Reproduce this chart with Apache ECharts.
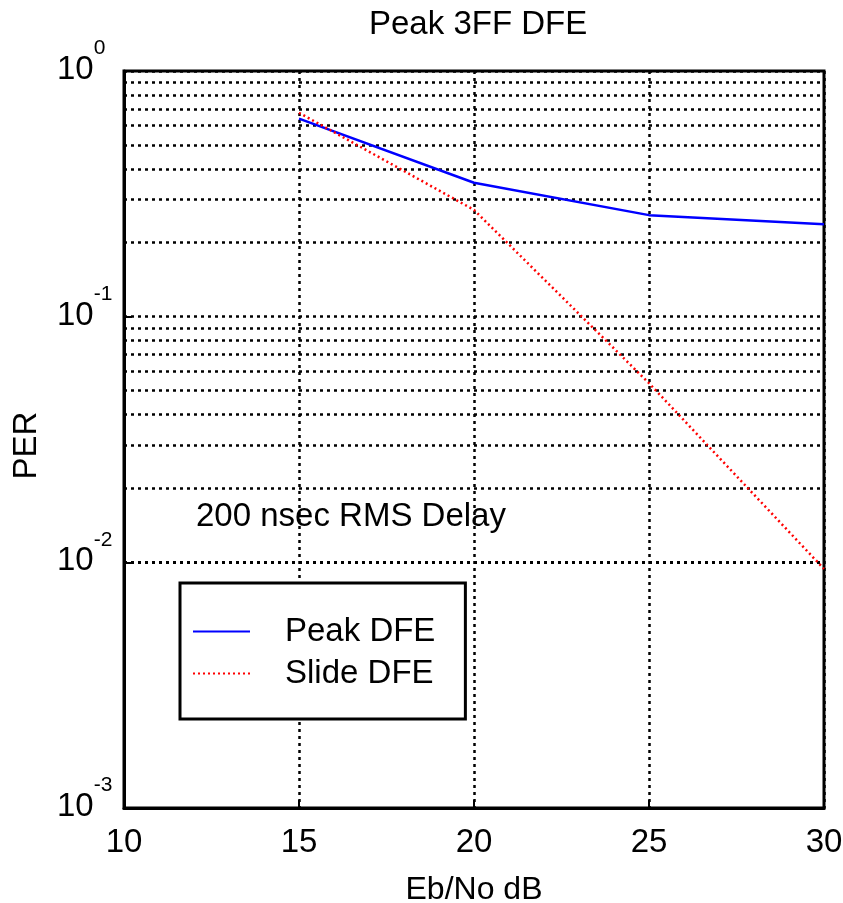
<!DOCTYPE html>
<html>
<head>
<meta charset="utf-8">
<script src="https://cdn.jsdelivr.net/npm/echarts@6/dist/echarts.min.js"></script>
<style>
  html, body { margin: 0; padding: 0; background: #fff; }
  #chart { width: 843px; height: 903px; }
</style>
</head>
<body>
<div id="chart"></div>
<script>
// Eb/No values (dB)
const ebNo = [15, 20, 25, 30];
// Packet error rate for each equaliser
const peakDFE = [0.64, 0.351, 0.259, 0.238];
const slideDFE = [0.676, 0.272, 0.0536, 0.0094];

// Axis ticks
const xTicks = [10, 15, 20, 25, 30];
const yDecades = [0.001, 0.01, 0.1, 1];
const yExponents = ['-3', '-2', '-1', '0'];

// Intermediate log-scale grid values (2..9 within each decade)
const yMinor = [
  0.002, 0.003, 0.004, 0.005, 0.006, 0.007, 0.008, 0.009,
  0.02, 0.03, 0.04, 0.05, 0.06, 0.07, 0.08, 0.09,
  0.2, 0.3, 0.4, 0.5, 0.6, 0.7, 0.8, 0.9
];

const FONT = '"Liberation Sans", Arial, sans-serif';
const FS = 33;
const dotted = { color: '#000', width: 2.5, type: [3, 4] };

const chart = echarts.init(document.getElementById('chart'), null, { renderer: 'canvas' });

chart.setOption({
  backgroundColor: '#fff',
  animation: false,
  textStyle: { fontFamily: FONT, color: '#000' },
  title: {
    text: 'Peak 3FF DFE',
    left: 364,
    top: 3,
    textStyle: { fontFamily: FONT, fontSize: FS, fontWeight: 'normal', color: '#000' }
  },
  grid: {
    left: 124, top: 71, width: 700, height: 737,
    containLabel: false,
    outerBoundsMode: 'none',
    show: true, borderColor: '#000', borderWidth: 3, backgroundColor: '#fff'
  },
  legend: {
    orient: 'vertical',
    left: 180,
    top: 583,
    padding: [32, 30, 29, 12],
    itemGap: 9,
    itemWidth: 57,
    itemHeight: 14,
    backgroundColor: '#fff',
    borderColor: '#000',
    borderWidth: 3,
    borderRadius: 0,
    itemStyle: { opacity: 0 },
    data: ['Peak DFE', 'Slide DFE'],
    textStyle: { fontFamily: FONT, fontSize: FS, color: '#000', padding: [0, 0, 0, 30] }
  },
  xAxis: {
    type: 'value',
    min: xTicks[0],
    max: xTicks[xTicks.length - 1],
    interval: xTicks[1] - xTicks[0],
    name: 'Eb/No dB',
    nameLocation: 'middle',
    nameGap: 66,
    nameTextStyle: { fontFamily: FONT, fontSize: 32, color: '#000' },
    axisLine: { show: true, lineStyle: { color: '#000', width: 3 } },
    axisTick: { show: true, inside: true, length: 8, lineStyle: { color: '#000', width: 2 } },
    axisLabel: { fontFamily: FONT, fontSize: FS, color: '#000', margin: 18 },
    splitLine: { show: true, lineStyle: dotted }
  },
  yAxis: {
    type: 'log',
    logBase: 10,
    min: yDecades[0],
    max: yDecades[yDecades.length - 1],
    name: 'PER',
    nameLocation: 'middle',
    nameGap: 81,
    nameTextStyle: { fontFamily: FONT, fontSize: FS, color: '#000', padding: [0, 12, 0, 0] },
    axisLine: { show: true, lineStyle: { color: '#000', width: 3 } },
    axisTick: { show: true, inside: true, length: 8, lineStyle: { color: '#000', width: 2 } },
    axisLabel: {
      margin: 67,
      align: 'left',
      padding: [0, 0, 2, 0],
      formatter: function (v) {
        let idx = 0, best = Infinity;
        yDecades.forEach(function (d, i) {
          const diff = Math.abs(Math.log10(d) - Math.log10(v));
          if (diff < best) { best = diff; idx = i; }
        });
        return '{b|10}{s|' + yExponents[idx] + '}';
      },
      rich: {
        b: { fontFamily: FONT, fontSize: FS, color: '#000', lineHeight: 64, verticalAlign: 'middle' },
        s: { fontFamily: FONT, fontSize: 21, color: '#000', verticalAlign: 'top' }
      }
    },
    splitLine: { show: true, lineStyle: dotted }
  },
  graphic: [
    {
      type: 'text',
      left: 196,
      top: 500,
      z: 10,
      style: {
        text: '200 nsec RMS Delay',
        font: FS + 'px ' + FONT,
        fill: '#000'
      }
    }
  ],
  series: [
    {
      name: 'grid-minor',
      type: 'line',
      data: [],
      z: 1,
      silent: true,
      markLine: {
        silent: true,
        symbol: ['none', 'none'],
        label: { show: false },
        lineStyle: dotted,
        emphasis: { disabled: true },
        data: yMinor.map(function (v) { return { yAxis: v }; })
      }
    },
    {
      name: 'Peak DFE',
      type: 'line',
      data: ebNo.map(function (x, i) { return [x, peakDFE[i]]; }),
      showSymbol: false,
      symbol: 'none',
      z: 5,
      color: '#0000ff',
      lineStyle: { color: '#0000ff', width: 2.5, type: 'solid' }
    },
    {
      name: 'Slide DFE',
      type: 'line',
      data: ebNo.map(function (x, i) { return [x, slideDFE[i]]; }),
      showSymbol: false,
      symbol: 'none',
      z: 5,
      color: '#ff0000',
      lineStyle: { color: '#ff0000', width: 2.5, type: [2, 3] }
    }
  ]
});
</script>
</body>
</html>
